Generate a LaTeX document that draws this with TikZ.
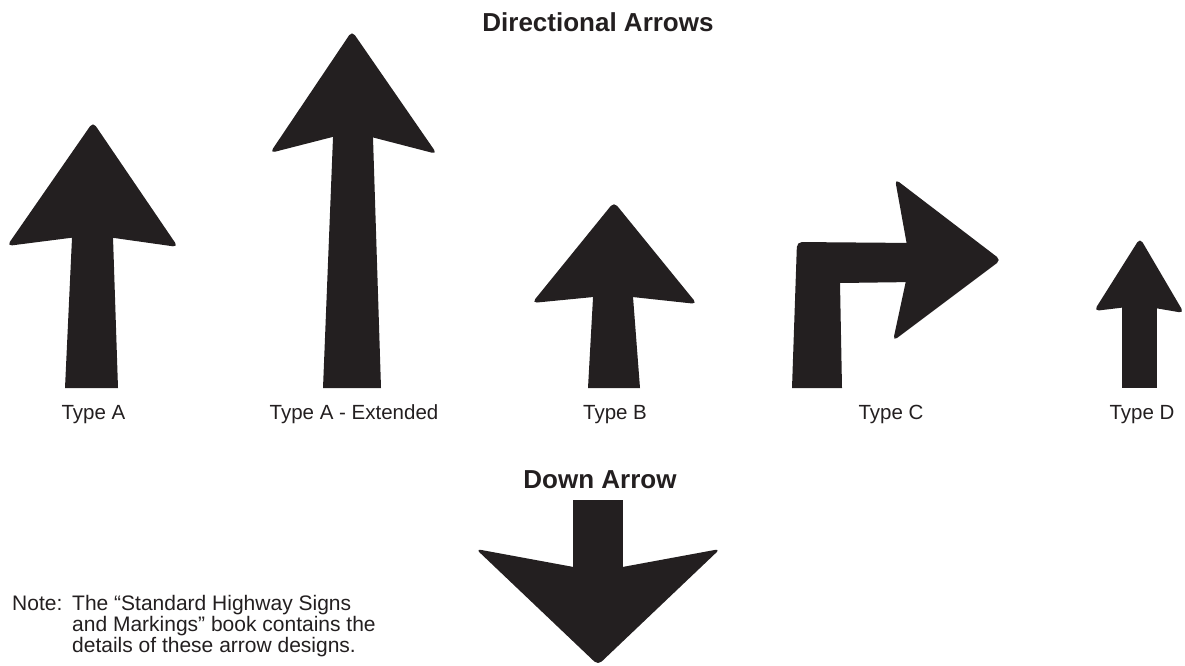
\documentclass[tikz,border=0pt]{standalone}
\usepackage{fontspec}
\setmainfont{Liberation Sans}
\definecolor{ink}{HTML}{231F20}
\begin{document}
\begin{tikzpicture}[x=1pt,y=-1pt,
  stem/.style={fill=ink},
  head/.style={fill=ink, rounded corners=5pt},
  lbl/.style={anchor=base, inner sep=0pt, text=ink, font=\fontsize{20.5}{24}\selectfont},
  ttl/.style={anchor=base, inner sep=0pt, text=ink, font=\fontsize{26}{30}\selectfont\bfseries},
  notetext/.style={anchor=base west, inner sep=0pt, text=ink, font=\fontsize{21}{24}\selectfont}]
\path[use as bounding box] (0,0) rectangle (1185,666);

% titles
\node[ttl] (title) at (598,32) {Directional Arrows};
\node[ttl] (downtitle) at (600,488) {Down Arrow};

% Type A
\fill[stem] (72.6,225) -- (112.6,225) -- (118,388) -- (65,388) -- cycle;
\fill[head] (7,246) -- (93,122) -- (178,247) -- (93,235) -- cycle;
\node[lbl] (la) at (93.5,419) {Type A};

% Type A - Extended
\fill[stem] (333.5,125) -- (372.6,125) -- (381,388) -- (323,388) -- cycle;
\fill[head] (270,153) -- (352,31) -- (437,154) -- (352,132) -- cycle;
\node[lbl] (lae) at (354,419) {Type A - Extended};

% Type B
\fill[stem] (593.7,285) -- (632.1,285) -- (640,388) -- (588,388) -- cycle;
\fill[head] (532,303) -- (614,202) -- (697,304) -- (614,295) -- cycle;
\node[lbl] (lb) at (615,419) {Type B};

% Type C
\fill[stem] (792,388) [rounded corners=5pt] -- (797,242) -- (915,243) [sharp corners] -- (915,282) -- (840,283) -- (842,388) -- cycle;
\fill[head] (895,179) -- (1001,260) -- (893,341) -- (910,262) -- cycle;
\node[lbl] (lc) at (891,419) {Type C};

% Type D
\fill[stem] (1122,295) -- (1157,295) -- (1157,388) -- (1122,388) -- cycle;
\fill[head] (1094,311) -- (1140,238) -- (1184,313) -- (1140,305.5) -- cycle;
\node[lbl] (ld) at (1142,419) {Type D};

% Down arrow
\fill[stem] (573,500) -- (623,500) -- (623,578) -- (573,578) -- cycle;
\fill[head] (476,549) -- (598,571.5) -- (720,549) -- (598,665) -- cycle;

% Note
\node[notetext] (notelabel) at (12,610) {Note:};
\node[notetext] (note1) at (72,610) {The “Standard Highway Signs};
\node[notetext] (note2) at (72,631) {and Markings” book contains the};
\node[notetext] (note3) at (72,652) {details of these arrow designs.};
\end{tikzpicture}
\end{document}
